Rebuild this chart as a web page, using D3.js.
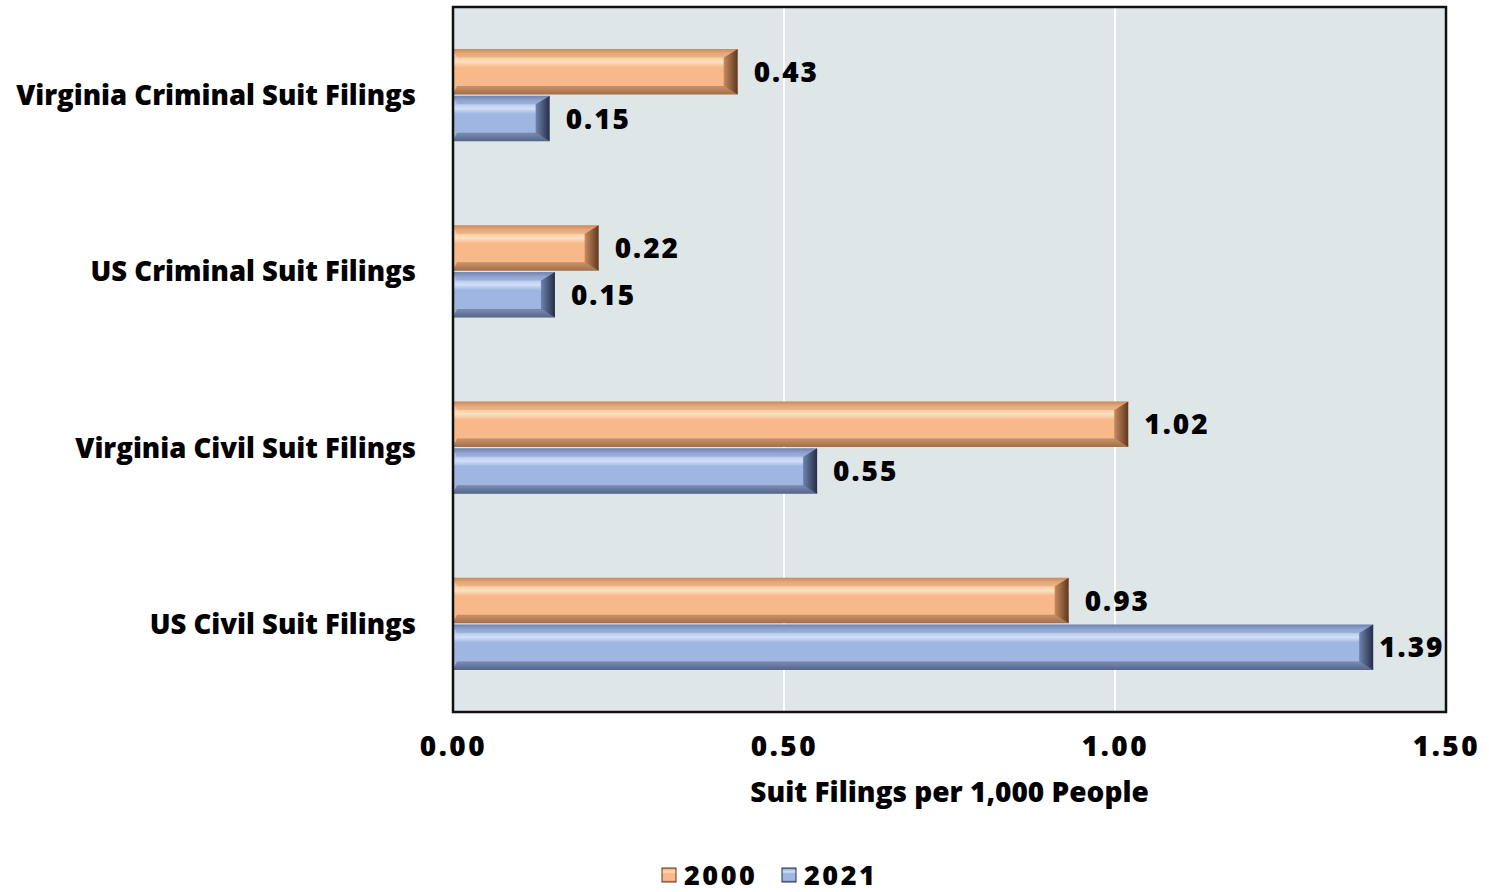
<!DOCTYPE html>
<html><head><meta charset="utf-8">
<script src="https://cdn.jsdelivr.net/npm/d3@7"></script>
<style>body{margin:0;background:#fff}svg{display:block}text{font-family:"Open Sans",Lato,sans-serif;font-weight:800;fill:#000}</style>
</head><body><svg id="c" width="1489" height="892"></svg>
<script>
const categories = ["Virginia Criminal Suit Filings","US Criminal Suit Filings","Virginia Civil Suit Filings","US Civil Suit Filings"];
const seriesNames = ["2000","2021"];
const values2000 = [0.43, 0.22, 1.02, 0.93];
const values2021 = [0.146, 0.154, 0.55, 1.39];
const xTicks = [0, 0.5, 1.0, 1.5];

const svg = d3.select("#c");
const m = {l:453, r:1446, t:7, b:712};
const x = d3.scaleLinear().domain([0,1.5]).range([m.l,m.r]);
const y = d3.scaleBand().domain(categories).range([m.t,m.b]).paddingInner(0.477).paddingOuter(0.2385);
const ys = d3.scaleBand().domain(seriesNames).range([0,y.bandwidth()]).paddingInner(0.03);

const defs = svg.append("defs");
const pal = {
  "2000": {hi:"#fde0c0", mid:"#f8b98a", lo:"#c98a5e", dark:"#5e3820"},
  "2021": {hi:"#d2e0f7", mid:"#9fb5e2", lo:"#6f83b0", dark:"#252e45"}
};
seriesNames.forEach(s=>{
  const g = defs.append("linearGradient").attr("id","g"+s).attr("x1",0).attr("y1",0).attr("x2",0).attr("y2",1);
  const p = pal[s];
  [[0,p.lo],[0.1,p.mid],[0.28,p.hi],[0.4,p.mid],[0.85,p.mid],[1,p.lo]].forEach(([o,c])=>g.append("stop").attr("offset",o).attr("stop-color",c));
  const e = defs.append("linearGradient").attr("id","e"+s).attr("x1",0).attr("y1",0).attr("x2",1).attr("y2",0);
  e.append("stop").attr("offset",0).attr("stop-color",p.lo);
  e.append("stop").attr("offset",1).attr("stop-color",p.dark);
});

svg.append("rect").attr("x",m.l).attr("y",m.t).attr("width",m.r-m.l).attr("height",m.b-m.t).attr("fill","#dfe6e8");
svg.selectAll(".grid").data(xTicks.slice(1,-1)).join("line")
  .attr("x1",d=>x(d)).attr("x2",d=>x(d)).attr("y1",m.t).attr("y2",m.b).attr("stroke","#fff").attr("stroke-width",2);

const rows = categories.map((c,i)=>({c, v:{"2000":values2000[i],"2021":values2021[i]}}));
const grp = svg.selectAll(".cat").data(rows).join("g").attr("transform",d=>`translate(0,${y(d.c)})`);
seriesNames.forEach(s=>{
  const h = ys.bandwidth();
  const b = grp.append("g").attr("transform",`translate(0,${ys(s)})`);
  b.append("rect").attr("x",x(0)).attr("y",0).attr("width",d=>x(d.v[s])-x(0)).attr("height",h).attr("fill",`url(#g${s})`);
  const bw = 14;
  b.append("path").attr("d",d=>{const xe=x(d.v[s]);return `M${xe-bw},${bw*0.6}L${xe},0L${xe},${h}L${xe-bw},${h-bw*0.6}Z`;})
    .attr("fill",`url(#e${s})`);
  b.append("path").attr("d",d=>{const xe=x(d.v[s]);return `M${x(0)},0L${xe},0L${xe-bw},${bw*0.6}L${x(0)+4},${bw*0.6}Z`;})
    .attr("fill",pal[s].lo).attr("opacity",0.35);
  b.append("path").attr("d",d=>{const xe=x(d.v[s]);return `M${x(0)},${h}L${xe},${h}L${xe-bw},${h-bw*0.6}L${x(0)+4},${h-bw*0.6}Z`;})
    .attr("fill",pal[s].dark).attr("opacity",0.35);
  b.append("text").attr("x",d=>x(d.v[s])+16).attr("y",h/2).attr("dy","0.36em")
    .attr("font-size",28).attr("letter-spacing",2).text(d=>d3.format(".2f")(d.v[s]))
    .each(function(d){
      const w = this.getComputedTextLength();
      const x0 = x(d.v[s])+16;
      if (x0 + w > m.r - 3) d3.select(this).attr("x", Math.max(x(d.v[s])+6, m.r - 3 - w));
    });
});

svg.append("rect").attr("x",m.l).attr("y",m.t).attr("width",m.r-m.l).attr("height",m.b-m.t).attr("fill","none").attr("stroke","#111").attr("stroke-width",2.5);

svg.selectAll(".yl").data(categories).join("text")
  .attr("x",416).attr("y",d=>y(d)+y.bandwidth()/2).attr("dy","0.36em").attr("text-anchor","end")
  .attr("font-size",27.5).text(d=>d);

const xa = svg.append("g").attr("transform",`translate(0,${m.b})`).call(d3.axisBottom(x).tickValues(xTicks).tickFormat(d3.format(".2f")).tickSize(0).tickPadding(24));
xa.select(".domain").remove();
xa.selectAll("text").attr("font-size",28).attr("letter-spacing",2.5).attr("font-family",null).attr("fill","#000").attr("dy","0.71em");
svg.append("text").attr("x",(m.l+m.r)/2).attr("y",792).attr("dy","0.36em").attr("text-anchor","middle").attr("font-size",28).text("Suit Filings per 1,000 People");

const lg = svg.append("g").attr("transform","translate(662,875)");
let lx = 0;
seriesNames.forEach(s=>{
  const item = lg.append("g").attr("transform",`translate(${lx},0)`);
  item.append("rect").attr("x",0).attr("y",-7).attr("width",14).attr("height",14).attr("fill",`url(#g${s})`).attr("stroke",pal[s].dark).attr("stroke-width",1);
  item.append("text").attr("x",22).attr("y",0).attr("dy","0.36em").attr("font-size",27).attr("letter-spacing",2.5).text(s);
  lx += 120;
});
</script></body></html>
